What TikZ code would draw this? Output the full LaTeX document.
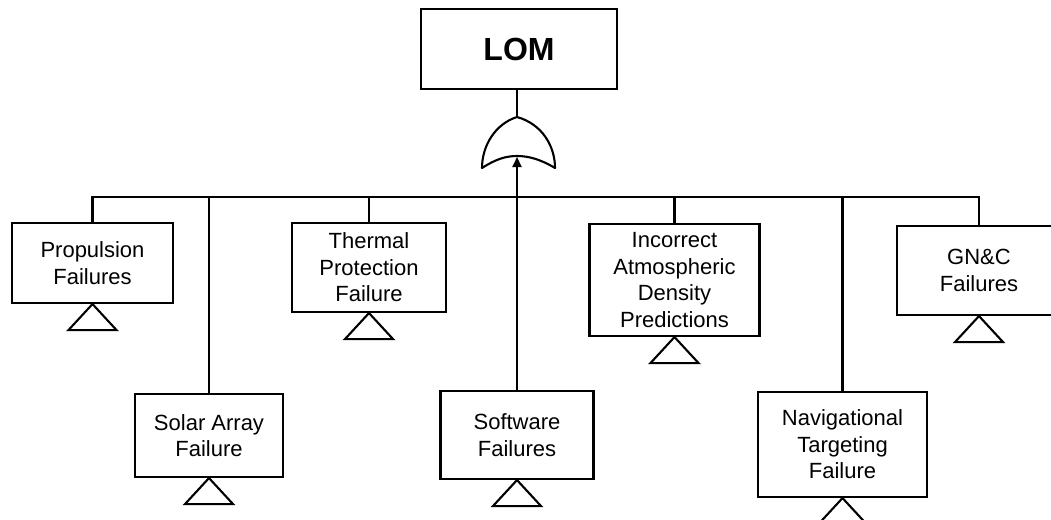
\documentclass[tikz,border=0pt]{standalone}
\usepackage{fontspec}
\setmainfont{Liberation Sans}
\usetikzlibrary{arrows.meta}
\begin{document}
\begin{tikzpicture}[x=1pt,y=-1pt, line width=2.1pt,
  ev/.style={draw, line width=2.1pt, align=center, inner sep=0pt,
    font=\fontsize{22}{26.5}\selectfont},
  top/.style={draw, line width=2.1pt, inner sep=0pt,
    font=\fontsize{32}{36}\selectfont\bfseries},
  xfer/.style={line width=2.1pt, line join=miter}]
\useasboundingbox (0,0) rectangle (1051,519);
\clip (0,0) rectangle (1051,519);
% top event
\node[top, minimum width=196pt, minimum height=80pt] (lom) at (519,49) {LOM};
% OR gate
\coordinate (gtop) at (517,117);
\coordinate (gbot) at (517,156);
\draw[line join=round] (gtop) .. controls (495,124) and (482,146) .. (482,168)
  .. controls (496,159) and (506,156) .. (gbot)
  .. controls (528,156) and (540,159) .. (555,168)
  .. controls (555,146) and (542,124) .. (gtop);
\draw (lom.south -| gtop) -- (gtop);
% events
\node[ev, minimum width=161pt, minimum height=80pt] (prop) at (92.5,263) {Propulsion\\Failures};
\node[ev, minimum width=148pt, minimum height=83pt] (solar) at (209,435.5) {Solar Array\\Failure};
\node[ev, minimum width=154pt, minimum height=89pt] (therm) at (369,267.5) {Thermal\\Protection\\Failure};
\node[ev, minimum width=153pt, minimum height=88pt] (soft) at (517,435) {Software\\Failures};
\node[ev, minimum width=170pt, minimum height=112pt] (atm) at (674.5,280) {Incorrect\\Atmospheric\\Density\\Predictions};
\node[ev, minimum width=169pt, minimum height=105pt] (nav) at (842.5,444.5) {Navigational\\Targeting\\Failure};
\node[ev, minimum width=164pt, minimum height=89pt] (gnc) at (979,270.5) {GN\&C\\Failures};
% bus
\coordinate (bus) at (517,197);
\draw (prop.north) |- (gnc.north |- bus) -- (gnc.north);
\foreach \n in {solar,therm,atm,nav}
  \draw (\n.north) -- (\n.north |- bus);
\draw[-{Triangle[length=10pt,width=9pt]}] (soft.north) -- ([yshift=-1pt]gbot);
% transfer triangles
\foreach \n in {prop,solar,therm,soft,atm,nav,gnc}
  \draw[xfer] (\n.south) -- ++(-24,26) -- ++(48,0) -- cycle;
\end{tikzpicture}
\end{document}
